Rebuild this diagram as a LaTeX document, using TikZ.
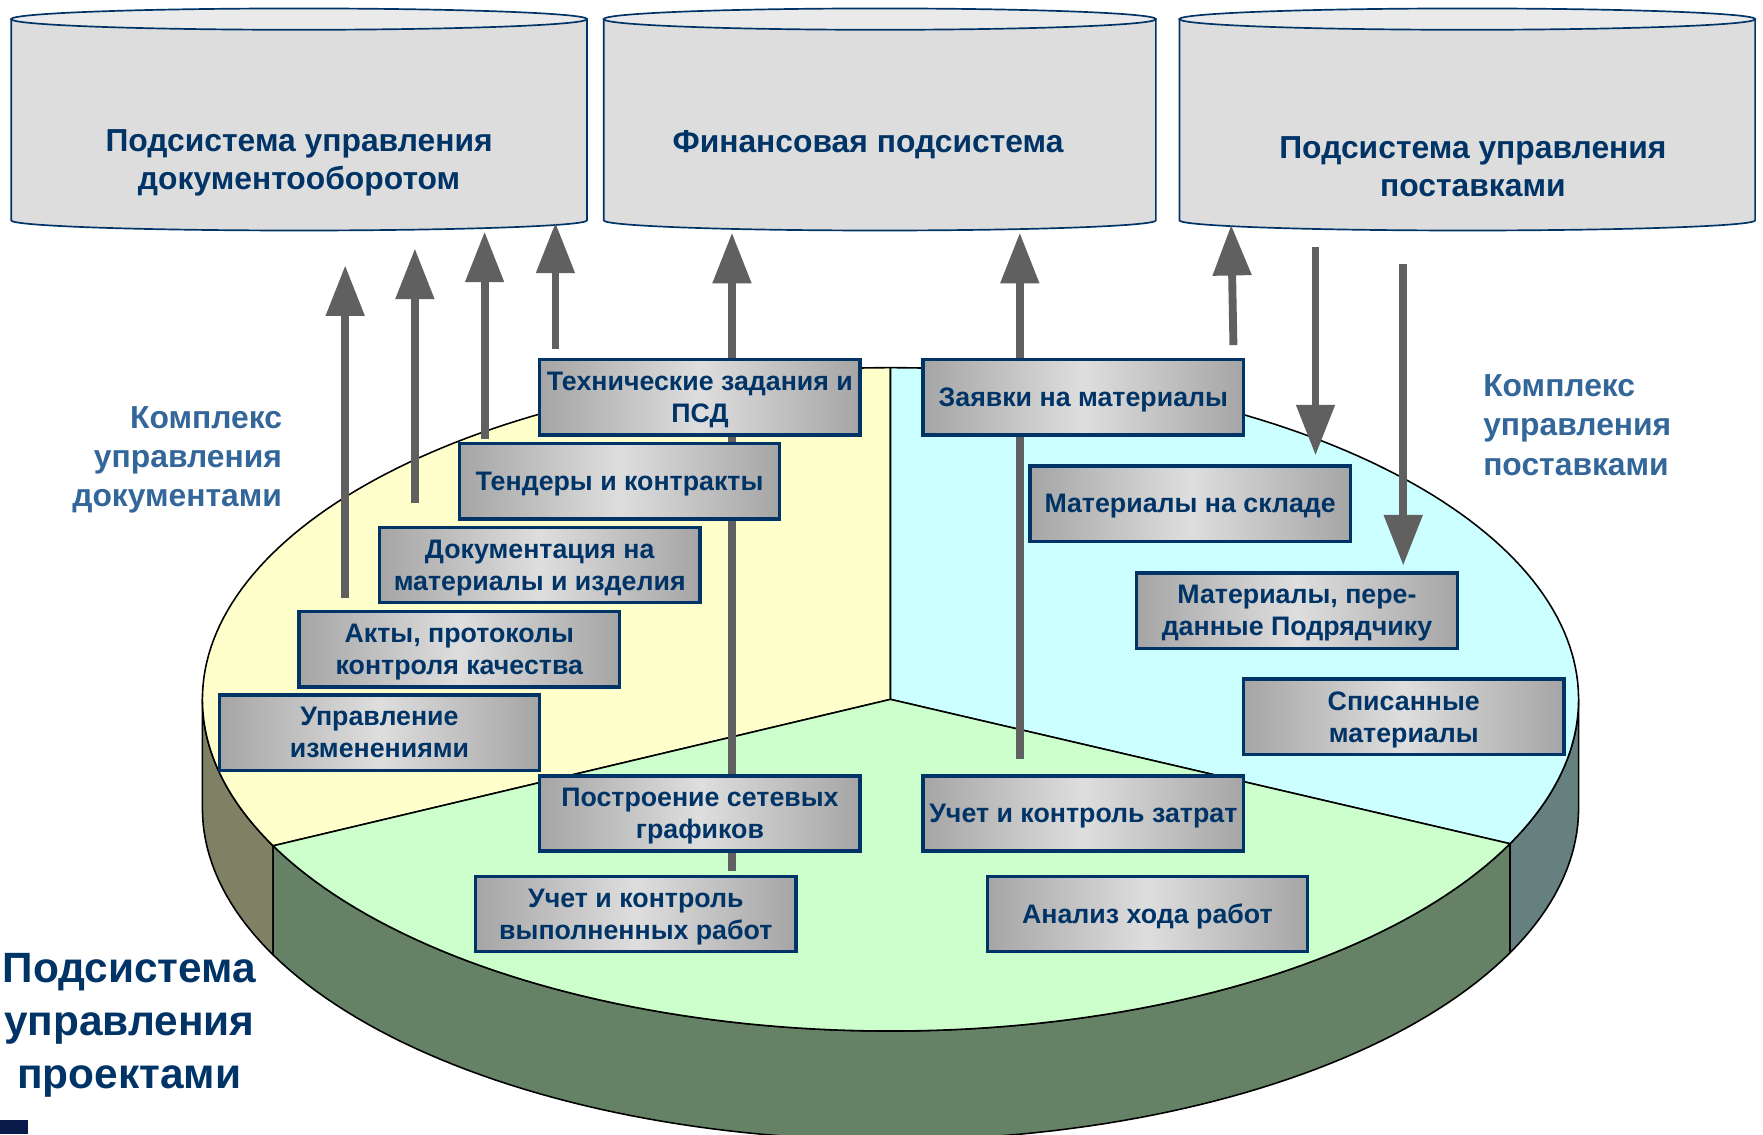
\documentclass[tikz,border=0pt]{standalone}
\usepackage{fontspec}
\setmainfont{Liberation Sans}
\usetikzlibrary{arrows.meta}
\definecolor{navy}{RGB}{0,51,102}
\definecolor{labblue}{RGB}{51,102,153}
\definecolor{arrgray}{RGB}{96,96,96}
\definecolor{cylfill}{RGB}{221,221,221}
\definecolor{cyltop}{RGB}{234,234,234}
\definecolor{yelface}{RGB}{255,255,204}
\definecolor{cyanface}{RGB}{204,255,255}
\definecolor{greenface}{RGB}{204,255,204}
\definecolor{oliveside}{RGB}{128,128,100}
\definecolor{greenside}{RGB}{102,130,102}
\definecolor{tealside}{RGB}{102,128,128}
\definecolor{boxedge}{RGB}{165,165,165}
\definecolor{boxmid}{RGB}{222,222,222}
\definecolor{corner}{RGB}{10,26,74}
\tikzset{
  cylline/.style={draw=navy, line width=1.5pt},
  cyltext/.style={text=navy, font=\bfseries\fontsize{28.3}{33.5}\selectfont, align=center, inner sep=0pt},
  facestyle/.style={draw=black, line width=1.4pt, line join=round},
  infobox/.style={draw=navy, line width=3pt, left color=boxedge, right color=boxedge, middle color=boxmid,
    minimum width=285pt, minimum height=67pt, inner sep=0pt, align=center, text=navy,
    text depth=-6pt, font=\bfseries\fontsize{23.8}{28.5}\selectfont},
  flow/.style={draw=arrgray, line width=7pt, -{Triangle[width=33pt,length=45pt]}},
  lab/.style={text=labblue, font=\bfseries\fontsize{28.3}{35}\selectfont, inner sep=0pt},
  biglab/.style={text=navy, font=\bfseries\fontsize{37.7}{47}\selectfont, inner sep=0pt, align=center}
}
\begin{document}
\begin{tikzpicture}[x=1pt,y=-1pt]
\useasboundingbox (0,0) rectangle (1568,1009);

% ---------- cylinders ----------
% cylinder 1: x 10..522
\filldraw[fill=cylfill, cylline] (10,17) -- (10,196) arc[start angle=180, end angle=360, x radius=256pt, y radius=9pt] -- (522,17) -- cycle;
\filldraw[fill=cyltop, cylline] (266,17) ellipse[x radius=256pt, y radius=9.5pt];
% cylinder 2: x 537..1028
\filldraw[fill=cylfill, cylline] (537,17) -- (537,196) arc[start angle=180, end angle=360, x radius=245.5pt, y radius=9pt] -- (1028,17) -- cycle;
\filldraw[fill=cyltop, cylline] (782.5,17) ellipse[x radius=245.5pt, y radius=9.5pt];
% cylinder 3: x 1049..1561
\filldraw[fill=cylfill, cylline] (1049,17) -- (1049,196) arc[start angle=180, end angle=360, x radius=256pt, y radius=9pt] -- (1561,17) -- cycle;
\filldraw[fill=cyltop, cylline] (1305,17) ellipse[x radius=256pt, y radius=9.5pt];

\node[cyltext] (cyl1) at (266,145) {Подсистема управления\\документооборотом};
\node[cyltext] (cyl2) at (772,128.5) {Финансовая подсистема};
\node[cyltext] (cyl3) at (1310,148.5) {Подсистема управления\\поставками};

% ---------- pie ----------
\coordinate (C) at (792,622);
% sides
\filldraw[fill=oliveside, facestyle]
  plot[domain=153.8:180, samples=20, variable=\t] ({792+612*cos(\t)},{622+295*sin(\t)})
  -- plot[domain=180:153.8, samples=20, variable=\t] ({792+612*cos(\t)},{719+295*sin(\t)}) -- cycle;
\filldraw[fill=greenside, facestyle]
  plot[domain=25.8:153.8, samples=90, variable=\t] ({792+612*cos(\t)},{622+295*sin(\t)})
  -- plot[domain=153.8:25.8, samples=90, variable=\t] ({792+612*cos(\t)},{719+295*sin(\t)}) -- cycle;
\filldraw[fill=tealside, facestyle]
  plot[domain=0:25.8, samples=20, variable=\t] ({792+612*cos(\t)},{622+295*sin(\t)})
  -- plot[domain=25.8:0, samples=20, variable=\t] ({792+612*cos(\t)},{719+295*sin(\t)}) -- cycle;
% faces
\filldraw[fill=yelface, facestyle] (C) -- plot[domain=153.8:270, samples=90, variable=\t] ({792+612*cos(\t)},{622+295*sin(\t)}) -- cycle;
\filldraw[fill=cyanface, facestyle] (C) -- plot[domain=270:385.8, samples=90, variable=\t] ({792+612*cos(\t)},{622+295*sin(\t)}) -- cycle;
\filldraw[fill=greenface, facestyle] (C) -- plot[domain=25.8:153.8, samples=90, variable=\t] ({792+612*cos(\t)},{622+295*sin(\t)}) -- cycle;

% ---------- arrow end points ----------
\coordinate (a1s) at (307,532); \coordinate (a1e) at (307,236);
\coordinate (a2s) at (369,447); \coordinate (a2e) at (369,221);
\coordinate (a3s) at (431,390); \coordinate (a3e) at (431,206);
\coordinate (a4s) at (494,310); \coordinate (a4e) at (494,198);
\coordinate (a5s) at (651,775); \coordinate (a5e) at (651,207);
\coordinate (a6s) at (907,675); \coordinate (a6e) at (907,207);
\coordinate (a7s) at (1097,307); \coordinate (a7e) at (1095,200);
\coordinate (a8s) at (1170,220); \coordinate (a8e) at (1170,405);
\coordinate (a9s) at (1248,235); \coordinate (a9e) at (1248,503);
\draw[flow] (a1s) -- (a1e);
\draw[flow] (a2s) -- (a2e);
\draw[flow] (a3s) -- (a3e);
\draw[flow] (a4s) -- (a4e);
\draw[flow] (a5s) -- (a5e);
\draw[flow] (a6s) -- (a6e);
\draw[flow] (a7s) -- (a7e);
\draw[flow] (a8s) -- (a8e);
\draw[flow] (a9s) -- (a9e);

% ---------- boxes ----------
\node[infobox] (b1) at (622.5,353.5) {Технические задания и\\ПСД};
\node[infobox] (b2) at (551,428) {Тендеры и контракты};
\node[infobox] (b3) at (480,502.5) {Документация на\\материалы и изделия};
\node[infobox] (b4) at (408.5,577.5) {Акты, протоколы\\контроля качества};
\node[infobox] (b5) at (337.5,651.5) {Управление\\изменениями};
\node[infobox] (b6) at (622.5,723.5) {Построение сетевых\\графиков};
\node[infobox] (b7) at (565.5,813) {Учет и контроль\\выполненных работ};
\node[infobox] (b8) at (963.5,353.5) {Заявки на материалы};
\node[infobox] (b9) at (1058.5,448) {Материалы на складе};
\node[infobox] (b10) at (1153.5,543) {Материалы, пере-\\данные Подрядчику};
\node[infobox] (b11) at (1248.5,637.5) {Списанные\\материалы};
\node[infobox] (b12) at (963.5,723.5) {Учет и контроль затрат};
\node[infobox] (b13) at (1020.5,813) {Анализ хода работ};

% ---------- labels ----------
\node[lab, anchor=east, align=right] (kd) at (251,409) {Комплекс\\управления\\документами};
\node[lab, anchor=west, align=left] (kp) at (1319,378) {Комплекс\\управления\\поставками};
\node[biglab] (pp) at (115,912) {Подсистема\\управления\\проектами};

\fill[corner] (0,996) rectangle (25,1009);
\end{tikzpicture}
\end{document}
